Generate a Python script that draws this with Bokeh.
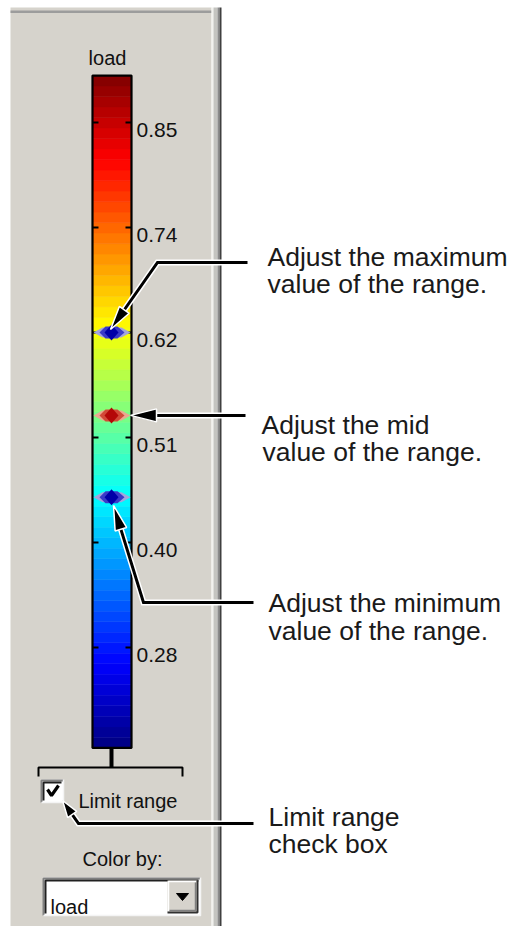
import numpy as np
from bokeh.plotting import figure
from bokeh.models import Range1d
from bokeh.embed import file_html
from bokeh.resources import INLINE
from bokeh.core.properties import value

# ---------------- data ----------------
colorbar_title = "load"
color_min = 0.174          # value at the bottom of the colour bar
color_max = 0.904          # value at the top of the colour bar
n_colors = 64
tick_values = [0.853, 0.739, 0.625, 0.511, 0.397, 0.283]
tick_labels = ["0.85", "0.74", "0.62", "0.51", "0.40", "0.28"]
range_max = 0.625
range_mid = 0.535
range_min = 0.446
marker_values = [range_max, range_mid, range_min]
marker_kinds = ["blue", "red", "blue"]
checkbox_label = "Limit range"
color_by_label = "Color by:"
dropdown_value = "load"
callout_max = ["Adjust the maximum", "value of the range."]
callout_mid = ["Adjust the mid", "value of the range."]
callout_min = ["Adjust the minimum", "value of the range."]
callout_chk = ["Limit range", "check box"]

# ---------------- layout ----------------
W, H = 512, 926
PX_TOP, PX_BOT = 0, H
# value scale: 0.853 sits at pixel row 122, 0.283 at row 647
PX_A, V_A, PX_B, V_B = 122, 0.853, 647, 0.283
VPP = (V_A - V_B) / (PX_B - PX_A)   # value per pixel
VAL_TOP = V_A + (PX_A - PX_TOP) * VPP
VAL_BOT = V_A - (PX_BOT - PX_A) * VPP


def px_of(v):
    return PX_TOP + (VAL_TOP - v) / VPP


PANEL = "#d6d3cc"
UI_FONT = value("Liberation Sans")
NOTE_FONT = value("Liberation Sans")

p = figure(width=W, height=H, x_range=Range1d(0, W), y_range=Range1d(PX_BOT, PX_TOP),
           x_axis_type=None, y_axis_type=None, output_backend="svg",
           toolbar_location=None, min_border=0)
p.extra_y_ranges = {"val": Range1d(VAL_BOT, VAL_TOP)}
p.outline_line_color = None
p.background_fill_color = "white"
p.border_fill_color = "white"

# panel
p.quad(left=10, right=211, top=7, bottom=PX_BOT, fill_color=PANEL, line_color=None)
p.quad(left=10, right=211, top=10, bottom=12.5, fill_color="#9c9c9c", line_color=None)
p.quad(left=211, right=213, top=7, bottom=PX_BOT, fill_color="#f2f2ee", line_color=None)
p.quad(left=213, right=217, top=7, bottom=PX_BOT, fill_color="#c4c4c0", line_color=None)
p.quad(left=217, right=219, top=7, bottom=PX_BOT, fill_color="#8c8c8c", line_color=None)
p.quad(left=219, right=221, top=7, bottom=PX_BOT, fill_color="#404040", line_color=None)

# colour bar title
p.text(x=[107], y=[57], text=[colorbar_title], text_font=UI_FONT, text_font_size="20px",
       text_align="center", text_baseline="alphabetic", text_color="#111111")


# jet colour bands
def jet(t):
    r = np.clip(1.5 - abs(4 * t - 3), 0, 1)
    g = np.clip(1.5 - abs(4 * t - 2), 0, 1)
    b = np.clip(1.5 - abs(4 * t - 1), 0, 1)
    return "#%02x%02x%02x" % (int(r * 255), int(g * 255), int(b * 255))


edges = np.linspace(color_min, color_max, n_colors + 1)
band_colors = [jet((i + 0.5) / n_colors) for i in range(n_colors)]
p.quad(left=92, right=131, bottom=edges[:-1], top=edges[1:], fill_color=band_colors,
       line_color=band_colors, line_width=0.5, y_range_name="val")
p.quad(left=[92], right=[131], bottom=[color_min], top=[color_max], fill_color=None,
       line_color="black", line_width=2.2, y_range_name="val")

# ticks
nt = len(tick_values)
p.segment(x0=[92] * nt, x1=[98] * nt, y0=tick_values, y1=tick_values,
          line_color="black", line_width=2, y_range_name="val")
p.segment(x0=[125] * nt, x1=[131] * nt, y0=tick_values, y1=tick_values,
          line_color="black", line_width=2, y_range_name="val")
p.text(x=[136] * nt, y=tick_values, text=tick_labels, y_range_name="val",
       y_offset=7, text_font=UI_FONT, text_font_size="21px", text_baseline="alphabetic",
       text_color="#111111")

# range markers
pal = {"blue": ("#a4a4dc", "#3a3ac8", "#0000a8"), "red": ("#eaa890", "#d24a38", "#b40808")}
for v, kind in zip(marker_values, marker_kinds):
    c_out, c_mid, c_core = pal[kind]
    ox = [93, 102, 121, 130, 121, 102]
    oy = [0, -5, -5, 0, 5, 5]
    p.patch(x=ox, y=[v - d * VPP for d in oy], fill_color=c_out, line_color=None, y_range_name="val")
    mx = [99, 105, 117, 124, 117, 105]
    my = [0, -6, -6, 0, 6, 6]
    p.patch(x=mx, y=[v - d * VPP for d in my], fill_color=c_mid, line_color=None, y_range_name="val")
    cx = [104, 111, 118, 111]
    cy = [0, -8, 0, 8]
    p.patch(x=cx, y=[v - d * VPP for d in cy], fill_color=c_core, line_color=None, y_range_name="val")

# stem + bracket under the bar
p.quad(left=109, right=113, top=px_of(color_min), bottom=767, fill_color="black", line_color=None)
p.multi_line(xs=[[38, 38, 182, 182]], ys=[[776, 767, 767, 776]], line_color="black", line_width=2)

# checkbox
p.quad(left=41, right=63, top=779, bottom=802, fill_color="white", line_color=None)
p.multi_line(xs=[[41, 41, 63], [43, 43, 61]], ys=[[802, 780, 780], [800, 782, 782]],
             line_color=["#808080", "#202020"], line_width=2)
p.multi_line(xs=[[41, 63, 63]], ys=[[802, 802, 779]], line_color="#f4f4f4", line_width=1.5)
p.line(x=[47, 51, 58], y=[789, 795, 785], line_color="black", line_width=3.2)
p.text(x=[78], y=[800], text=[checkbox_label], text_font=UI_FONT, text_font_size="20px",
       text_baseline="alphabetic", text_color="#111111")

# colour-by label and dropdown
p.text(x=[82], y=[858], text=[color_by_label], text_font=UI_FONT, text_font_size="20px",
       text_baseline="alphabetic", text_color="#111111")
p.quad(left=43, right=200, top=877, bottom=915, fill_color="white", line_color=None)
p.multi_line(xs=[[43, 43, 200], [45, 45, 198]], ys=[[915, 878, 878], [913, 880, 880]],
             line_color=["#808080", "#202020"], line_width=2)
p.multi_line(xs=[[43, 200, 200]], ys=[[915, 915, 877]], line_color="#f4f4f4", line_width=1.5)
p.quad(left=167, right=197, top=880, bottom=912, fill_color=PANEL, line_color=None)
p.multi_line(xs=[[168, 168, 196], [167, 197, 197], [169, 195, 195]],
             ys=[[911, 881, 881], [912, 912, 880], [910, 910, 882]],
             line_color=["#ffffff", "#303030", "#808080"], line_width=[1.5, 2, 1.5])
p.patch(x=[176, 188, 182], y=[893, 893, 900], fill_color="black", line_color="black")
p.text(x=[50], y=[906], text=[dropdown_value], text_font=UI_FONT, text_font_size="20px",
       text_baseline="alphabetic", text_color="#111111")


# call-out arrows
def arrow(points, L, w):
    pts = np.array(points, dtype=float)
    tip, prev = pts[-1], pts[-2]
    d = (tip - prev) / np.hypot(*(tip - prev))
    n = np.array([-d[1], d[0]])
    base = tip - L * d
    shaft = np.vstack([pts[:-1], base + 0.3 * L * d])
    p.line(x=shaft[:, 0], y=shaft[:, 1], line_color="white", line_width=6, line_join="miter")
    p.line(x=shaft[:, 0], y=shaft[:, 1], line_color="black", line_width=3, line_join="miter")
    head = np.array([tip, base + w * n, base - w * n])
    p.patch(x=head[:, 0], y=head[:, 1], fill_color="black", line_color="white", line_width=1.5)


arrow([(247, 262), (157, 262), (110, px_of(range_max) - 3)], 24, 6)
arrow([(245, px_of(range_mid)), (130, px_of(range_mid))], 26, 6.5)
arrow([(253, 602), (143, 602), (113, px_of(range_min) + 8)], 25, 6)
arrow([(253, 823), (78, 823), (62, 800)], 17, 5.5)

NOTE = dict(text_font=NOTE_FONT, text_font_size="26.5px", text_baseline="alphabetic",
            text_color="#1a1a1a")
p.text(x=[267, 267], y=[256, 283], text=callout_max, **NOTE)
p.text(x=[261, 262], y=[424, 451], text=callout_mid, **NOTE)
p.text(x=[268, 268], y=[602, 630], text=callout_min, **NOTE)
p.text(x=[268, 268], y=[816, 843], text=callout_chk, **NOTE)

open("out.html", "w").write(file_html(p, INLINE))
